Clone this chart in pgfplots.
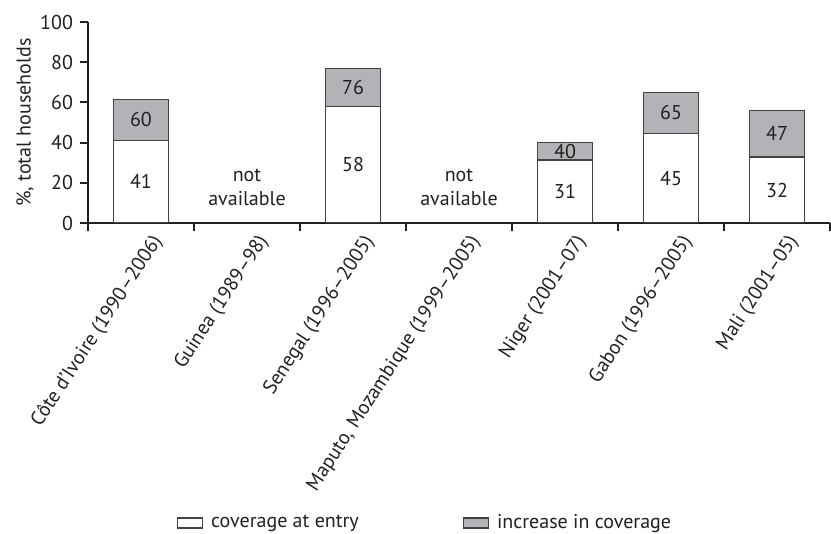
\documentclass[border=0pt]{standalone}
\usepackage{fontspec}
\setmainfont{PT Sans}
\usepackage{pgfplots}
\pgfplotsset{compat=1.18}
\definecolor{incgray}{RGB}{177,179,182}
\definecolor{ink}{RGB}{35,31,32}
\begin{document}
\begin{tikzpicture}
\begin{axis}[
  at={(0pt,0pt)}, anchor=south west,
  scale only axis, width=371pt, height=100.5pt,
  xmin=-0.5, xmax=6.5, ymin=0, ymax=100,
  axis lines=left,
  axis line style={-, line width=1pt, draw=ink},
  /pgf/number format/assume math mode=true,
  tick align=outside,
  tick style={line width=1pt, draw=ink},
  major tick length=4pt, minor tick length=4pt,
  xtick={0,...,6},
  major x tick style={draw=none},
  minor xtick={-0.5,0.5,...,6.5},
  xticklabels={Côte d'Ivoire (1990–2006), Guinea (1989–98), Senegal (1996–2005), {Maputo, Mozambique (1999–2005)}, Niger (2001–07), Gabon (1996–2005), Mali (2001–05)},
  xticklabel style={rotate=57, anchor=north east, inner sep=0pt, xshift=2pt, yshift=-4pt, text=ink},
  ytick={0,20,...,100},
  yticklabel style={text=ink},
  ylabel={\%, total households},
  ylabel style={at={(axis description cs:-0.085,0.5)}, anchor=center, rotate=0, text=ink},
  legend columns=2,
  legend style={draw=none, fill=none, at={(0.4555,-1.4925)}, anchor=center,
    /tikz/every odd column/.append style={column sep=2pt},
    /tikz/every even column/.append style={column sep=50pt}, text=ink},
  legend image code/.code={\draw[#1] (0pt,-2.5pt) rectangle (12.5pt,2.5pt);},
]
% total height (entry + increase), drawn first in grey
\addplot[ybar, bar width=27.8pt, fill=incgray, draw=ink!85, line width=0.65pt, forget plot]
  coordinates {(0,61.5) (2,77) (4,40) (5,65) (6,56)};
% coverage at entry, drawn on top in white
\addplot[ybar, bar width=27.8pt, fill=white, draw=ink!85, line width=0.65pt, forget plot]
  coordinates {(0,41) (2,58) (4,31.3) (5,44.7) (6,32.8)};
% labels
\addplot[draw=none, mark=none, forget plot, nodes near coords, point meta=explicit symbolic,
  every node near coord/.append style={anchor=center, align=center, text=ink, inner sep=0pt}]
  coordinates {
    (0,20.5) [41] (0,51.3) [60]
    (2,29) [58] (2,67.5) [76]
    (4,15.6) [31] (4,35.6) [40]
    (5,22.3) [45] (5,54.8) [65]
    (6,16.4) [32] (6,44.4) [47]
    (1,17.5) [{not\\available}]
    (3,17.5) [{not\\available}]
  };
\addlegendimage{fill=white, draw=ink!85, line width=0.65pt}
\addlegendentry{coverage at entry}
\addlegendimage{fill=incgray, draw=ink!85, line width=0.65pt}
\addlegendentry{increase in coverage}
\end{axis}
\pgfresetboundingbox
\path (-44pt,-155.5pt) rectangle (371.5pt,111.5pt);
\end{tikzpicture}
\end{document}
